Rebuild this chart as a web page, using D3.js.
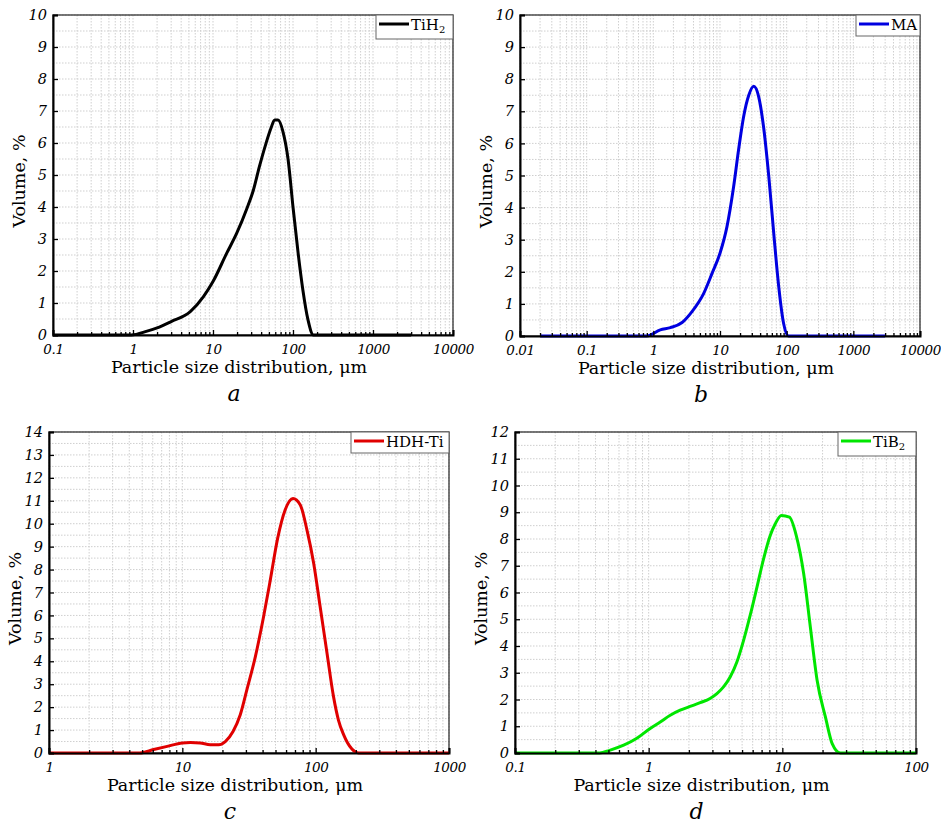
<!DOCTYPE html>
<html>
<head>
<meta charset="utf-8">
<script src="https://cdn.jsdelivr.net/npm/d3@7"></script>
<style>
  body { margin: 0; background: #fff; }
  svg { display: block; }
  text { font-family: "DejaVu Serif", "Liberation Serif", serif; fill: #000; }
</style>
</head>
<body>
<script>
// TiH2 (panel a)
var sizeA = [0.1, 0.5, 0.95, 1.5, 2, 3, 5.2, 7.6, 10, 14.8, 19.8, 26.6, 32, 38, 46, 53, 59, 65, 75, 87, 100, 116, 133, 154, 180, 3000];
var volA  = [0, 0, 0, 0.12, 0.22, 0.42, 0.73, 1.2, 1.67, 2.55, 3.18, 3.96, 4.53, 5.26, 5.99, 6.46, 6.72, 6.72, 6.35, 5.47, 4.0, 2.55, 1.4, 0.47, 0, 0];

// MA (panel b)
var sizeB = [0.02, 0.5, 0.8, 1.27, 1.8, 2.7, 3.8, 5.7, 7.6, 10, 12.7, 16, 19, 22.6, 27, 32, 38, 45, 54, 64, 76, 90, 107, 3000];
var volB  = [0, 0, 0, 0.19, 0.26, 0.42, 0.76, 1.33, 1.95, 2.58, 3.4, 4.65, 5.8, 6.83, 7.5, 7.78, 7.46, 6.52, 4.96, 3.2, 1.54, 0.39, 0, 0];

// HDH-Ti (panel c)
var sizeC = [1, 4.8, 6.1, 7.7, 10, 11.5, 13.6, 16.2, 18.7, 21, 24, 27.2, 30.5, 35.3, 40.7, 45.7, 51.9, 59, 67.6, 76.7, 86, 96.6, 108, 121.6, 136, 148, 162, 187, 210, 1000];
var volC  = [0, 0, 0.15, 0.29, 0.44, 0.46, 0.44, 0.36, 0.36, 0.5, 0.94, 1.67, 2.76, 4.2, 5.95, 7.55, 9.37, 10.6, 11.1, 10.82, 9.73, 8.28, 6.39, 4.36, 2.47, 1.45, 0.8, 0.17, 0, 0];

// TiB2 (panel d)
var sizeD = [0.1, 0.43, 0.51, 0.65, 0.81, 1.02, 1.22, 1.45, 1.72, 2.04, 2.43, 2.88, 3.24, 3.63, 4.07, 4.57, 5.13, 5.75, 6.46, 7.24, 8.13, 8.86, 9.83, 11.3, 12.7, 14.45, 16.2, 18.2, 21, 23.6, 27.2, 100];
var volD  = [0, 0, 0.1, 0.29, 0.54, 0.91, 1.16, 1.41, 1.6, 1.74, 1.88, 2.04, 2.22, 2.47, 2.84, 3.4, 4.21, 5.15, 6.2, 7.26, 8.14, 8.57, 8.88, 8.82, 8.14, 6.7, 4.71, 2.72, 1.35, 0.35, 0, 0];

var xTitle = "Particle size distribution, \u03bcm";
var yTitle = "Volume, %";

var panels = [
  {sx: sizeA, vy: volA, xdom: [0.1, 10000], ymax: 10, color: "#000000", name: "TiH", sub: "2", tag: "a",
   l: 53, r: 453, t: 15, b: 335, leg: [376, 15, 77, 24]},
  {sx: sizeB, vy: volB, xdom: [0.01, 10000], ymax: 10, color: "#0000e0", name: "MA", sub: "", tag: "b",
   l: 520, r: 920, t: 15, b: 336, leg: [856, 15, 64, 21]},
  {sx: sizeC, vy: volC, xdom: [1, 1000], ymax: 14, color: "#e00000", name: "HDH-Ti", sub: "", tag: "c",
   l: 49, r: 449, t: 432, b: 753, leg: [351, 432, 98, 21]},
  {sx: sizeD, vy: volD, xdom: [0.1, 100], ymax: 12, color: "#00e600", name: "TiB", sub: "2", tag: "d",
   l: 515, r: 916, t: 432, b: 753, leg: [838, 432, 78, 24]}
];

var svg = d3.select("body").append("svg")
  .attr("width", 941)
  .attr("height", 825);

var fmt = d3.format("~g");

panels.forEach(function(p) {
  var x = d3.scaleLog().domain(p.xdom).range([p.l, p.r]);
  var y = d3.scaleLinear().domain([0, p.ymax]).range([p.b, p.t]);
  var g = svg.append("g");

  var allX = x.ticks();
  var majorX = allX.filter(function(v) { return Math.abs(Math.log10(v) - Math.round(Math.log10(v))) < 1e-9; });
  var minorX = allX.filter(function(v) { return majorX.indexOf(v) < 0; });
  var halfY = d3.range(0, p.ymax + 0.01, 0.5);
  var majorY = d3.range(0, p.ymax + 1, 1);

  // grid
  g.append("g").selectAll("line").data(allX).enter().append("line")
    .attr("x1", function(d) { return x(d); }).attr("x2", function(d) { return x(d); })
    .attr("y1", p.t).attr("y2", p.b)
    .attr("stroke", "#cfcfcf").attr("stroke-width", 1).attr("stroke-dasharray", "1.5,1.5");
  g.append("g").selectAll("line").data(halfY.slice(1)).enter().append("line")
    .attr("x1", p.l).attr("x2", p.r)
    .attr("y1", function(d) { return y(d); }).attr("y2", function(d) { return y(d); })
    .attr("stroke", "#cfcfcf").attr("stroke-width", 1).attr("stroke-dasharray", "1.5,1.5");

  // frame
  g.append("rect")
    .attr("x", p.l).attr("y", p.t).attr("width", p.r - p.l).attr("height", p.b - p.t)
    .attr("fill", "none").attr("stroke", "#222").attr("stroke-width", 1.2);

  // curve
  var line = d3.line()
    .x(function(d, i) { return x(p.sx[i]); })
    .y(function(d) { return y(d); })
    .curve(d3.curveMonotoneX);
  g.append("path")
    .datum(p.vy)
    .attr("d", line)
    .attr("fill", "none")
    .attr("stroke", p.color)
    .attr("stroke-width", 3)
    .attr("stroke-linejoin", "round");

  // axes
  var xMinor = g.append("g").attr("transform", "translate(0," + p.b + ")")
    .call(d3.axisBottom(x).tickValues(minorX).tickSize(-3).tickFormat(""));
  var xMajor = g.append("g").attr("transform", "translate(0," + p.b + ")")
    .call(d3.axisBottom(x).tickValues(majorX).tickSize(-5).tickPadding(9).tickFormat(fmt));
  var yAx = g.append("g").attr("transform", "translate(" + p.l + ",0)")
    .call(d3.axisLeft(y).tickValues(majorY).tickSize(-5).tickPadding(6).tickFormat(d3.format("d")));

  [xMinor, xMajor, yAx].forEach(function(a) {
    a.select(".domain").attr("stroke", "#000").attr("stroke-width", 2);
    a.selectAll(".tick line").attr("stroke", "#000").attr("stroke-width", 1.3);
    a.selectAll("text")
      .style("font-family", "'DejaVu Serif', serif")
      .style("font-style", "italic")
      .style("font-size", "14.5px")
      .attr("fill", "#000");
  });
  xMajor.selectAll("text")
    .style("font-size", "13.5px")
    .style("letter-spacing", "-0.4px");
  xMinor.select(".domain").remove();

  // axis titles
  var cx = (p.l + p.r) / 2 - 14;
  g.append("text")
    .attr("x", cx).attr("y", p.b + 38)
    .attr("text-anchor", "middle")
    .style("font-size", "17.5px")
    .text(xTitle);
  g.append("text")
    .attr("transform", "translate(" + (p.l - 28) + "," + ((p.t + p.b) / 2 + 6) + ") rotate(-90)")
    .attr("text-anchor", "middle")
    .style("font-size", "17.5px")
    .text(yTitle);
  g.append("text")
    .attr("x", cx - 5).attr("y", p.b + 66)
    .attr("text-anchor", "middle")
    .style("font-size", "22px")
    .style("font-style", "italic")
    .text(p.tag);

  // legend
  var lg = p.leg;
  g.append("rect")
    .attr("x", lg[0]).attr("y", lg[1]).attr("width", lg[2]).attr("height", lg[3])
    .attr("fill", "#fff").attr("stroke", "#666").attr("stroke-width", 1);
  g.append("line")
    .attr("x1", lg[0] + 3).attr("x2", lg[0] + 33)
    .attr("y1", lg[1] + 9).attr("y2", lg[1] + 9)
    .attr("stroke", p.color).attr("stroke-width", 3);
  var lt = g.append("text")
    .attr("x", lg[0] + 35).attr("y", lg[1] + 15)
    .style("font-size", "15px");
  lt.append("tspan").text(p.name);
  if (p.sub) {
    lt.append("tspan").attr("dy", 3).style("font-size", "10px").text(p.sub);
  }
});
</script>
</body>
</html>
